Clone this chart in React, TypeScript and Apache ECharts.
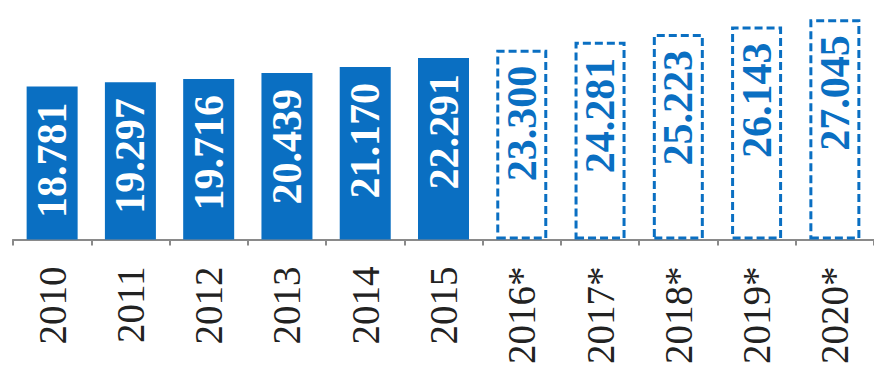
import React, { useEffect, useRef } from "react";
import * as echarts from "echarts";

const categories = ["2010", "2011", "2012", "2013", "2014", "2015", "2016*", "2017*", "2018*", "2019*", "2020*"];
const values = [18781, 19297, 19716, 20439, 21170, 22291, 23300, 24281, 25223, 26143, 27045];

const BLUE = "#0A6FC2";

function fmt(v: number): string {
  const s = String(Math.round(v));
  return s.slice(0, s.length - 3) + "." + s.slice(s.length - 3);
}

export default function App() {
  const ref = useRef<HTMLDivElement>(null);
  useEffect(() => {
    if (!ref.current) return;
    const chart = echarts.init(ref.current, null, { renderer: "svg" });
    const data = values.map((v, i) => {
      const forecast = categories[i].includes("*");
      if (!forecast) {
        return { value: v };
      }
      return {
        value: v,
        itemStyle: {
          color: "#ffffff",
          borderColor: BLUE,
          borderWidth: 3,
          borderType: [8, 4],
        },
        label: { color: BLUE },
      };
    });
    chart.setOption({
      animation: false,
      backgroundColor: "#ffffff",
      grid: { left: 13, top: 0, width: 867, bottom: 121, containLabel: false },
      xAxis: {
        type: "category",
        data: categories,
        boundaryGap: true,
        axisLine: { show: true, lineStyle: { color: "#8a8a8a", width: 2 } },
        axisTick: { show: true, length: 6, lineStyle: { color: "#8a8a8a", width: 2 } },
        axisLabel: {
          rotate: 90,
          margin: 27,
          interval: 0,
          color: "#222222",
          fontFamily: "Liberation Serif",
          fontSize: 39,
        },
      },
      yAxis: {
        type: "value",
        min: 0,
        max: 29400,
        show: false,
        splitLine: { show: false },
      },
      series: [
        {
          type: "bar",
          data,
          barWidth: 51,
          itemStyle: { color: BLUE },
          label: {
            show: true,
            position: "insideTop",
            distance: 16,
            rotate: 90,
            align: "right",
            verticalAlign: "middle",
            color: "#ffffff",
            fontFamily: "Liberation Serif",
            fontWeight: "bold",
            fontSize: 42,
            formatter: (p: any) => fmt(p.value),
          },
        },
      ],
    });
    return () => chart.dispose();
  }, []);
  return (
    <div
      ref={ref}
      style={{ position: "fixed", left: 0, top: 0, width: 874, height: 367, background: "#fff" }}
    />
  );
}
